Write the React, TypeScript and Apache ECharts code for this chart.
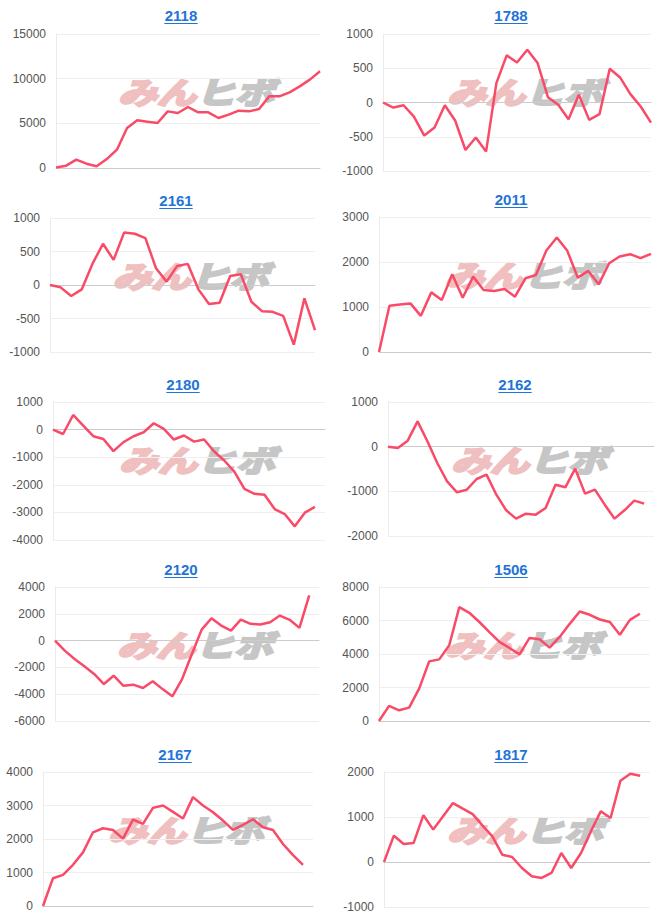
import React, { useEffect, useRef } from "react";
import * as echarts from "echarts";

// ---- data ----
const titles = ["2118", "1788", "2161", "2011", "2180", "2162", "2120", "1506", "2167", "1817"];

const periods = [
  "1", "2", "3", "4", "5", "6", "7", "8", "9", "10", "11", "12", "13", "14",
  "15", "16", "17", "18", "19", "20", "21", "22", "23", "24", "25", "26", "27", "28",
];

const s2118 = [50, 260, 930, 485, 190, 1000, 2050, 4480, 5340, 5190, 5040, 6340, 6160, 6830, 6230, 6230, 5600, 5970, 6420, 6340, 6600, 8020, 8020, 8470, 9140, 9890, 10820];
const s1788 = [0, -73, -40, -205, -483, -366, -40, -263, -693, -512, -717, 283, 688, 585, 771, 576, 78, -34, -244, 112, -254, -171, 493, 366, 122, -59, -293];
const s2161 = [0, -35, -165, -65, 315, 615, 375, 785, 765, 700, 250, 50, 285, 315, -65, -285, -265, 135, 160, -250, -390, -400, -460, -890, -200, -675];
const s2011 = [0, 1027, 1057, 1080, 804, 1325, 1154, 1727, 1206, 1675, 1377, 1355, 1400, 1228, 1638, 1712, 2256, 2546, 2248, 1653, 1802, 1504, 1973, 2122, 2174, 2085, 2182];
const s2180 = [0, -160, 530, 145, -240, -340, -780, -455, -240, -95, 230, 25, -360, -215, -435, -360, -795, -1120, -1520, -2145, -2325, -2360, -2880, -3060, -3505, -3010, -2800, null];
const s2162 = [0, -30, 135, 567, 120, -365, -776, -1022, -963, -724, -627, -1075, -1425, -1612, -1500, -1522, -1373, -851, -910, -493, -1052, -963, -1299, -1612, -1425, -1209, -1276, null];
const s2120 = [0, -750, -1370, -1920, -2490, -3240, -2620, -3370, -3290, -3540, -3040, -3620, -4160, -2870, -1000, 820, 1670, 1120, 750, 1570, 1250, 1200, 1370, 1870, 1550, 950, 3370, null];
const s1506 = [0, 900, 640, 800, 1930, 3560, 3680, 4520, 6800, 6460, 5910, 5310, 4720, 4360, 3980, 4960, 4880, 4380, 5020, 5800, 6540, 6340, 6060, 5910, 5150, 6040, 6400, null];
const s2167 = [0, 830, 930, 1230, 1600, 2200, 2320, 2270, 2010, 2580, 2450, 2930, 3000, 2810, 2610, 3250, 3000, 2800, 2550, 2270, 2420, 2590, 2350, 2270, 1850, 1520, 1230, null];
const s1817 = [0, 585, 400, 420, 1040, 720, 1015, 1310, 1185, 1065, 810, 570, 163, 111, -133, -318, -355, -244, 200, -133, 200, 680, 1126, 977, 1807, 1963, 1918, null];

const seriesData = [s2118, s1788, s2161, s2011, s2180, s2162, s2120, s1506, s2167, s1817];

// y axis ranges
const yMins = [0, -1000, -1000, 0, -4000, -2000, -6000, 0, 0, -1000];
const yMaxs = [15000, 1000, 1000, 3000, 1000, 1000, 4000, 8000, 4000, 2000];
const yIntervals = [5000, 500, 500, 1000, 1000, 1000, 2000, 2000, 1000, 1000];

// ---- layout (px) ----
const layout = [
  { left: 56, top: 34, width: 264, height: 134, tx: 181, ty: 15 },
  { left: 383, top: 34, width: 268, height: 137, tx: 511, ty: 15 },
  { left: 50, top: 218, width: 265, height: 134, tx: 176, ty: 200 },
  { left: 379, top: 217, width: 272, height: 135, tx: 511, ty: 199 },
  { left: 53, top: 402, width: 272, height: 138, tx: 183, ty: 384 },
  { left: 388, top: 402, width: 266, height: 134, tx: 515, ty: 384 },
  { left: 55, top: 587, width: 264, height: 134, tx: 181, ty: 569 },
  { left: 379, top: 587, width: 271, height: 134, tx: 511, ty: 569 },
  { left: 43, top: 772, width: 270, height: 134, tx: 175, ty: 754 },
  { left: 384, top: 772, width: 266, height: 135, tx: 511, ty: 754 },
];

const LINE_COLOR = "#f94b68";
const TITLE_COLOR = "#1f74d8";
const WM_FONT = "'Noto Sans CJK JP', sans-serif";

function buildOption() {
  const grid: any[] = [];
  const xAxis: any[] = [];
  const yAxis: any[] = [];
  const series: any[] = [];
  const graphic: any[] = [];

  seriesData.forEach((data, i) => {
    const L = layout[i];
    grid.push({ left: L.left, top: L.top, width: L.width, height: L.height, containLabel: false });
    xAxis.push({
      type: "category",
      gridIndex: i,
      data: periods.slice(0, data.length),
      boundaryGap: false,
      axisLabel: { show: false },
      axisTick: { show: false },
      axisLine: { show: true, onZero: true, lineStyle: { color: "#cccccc", width: 1 } },
      splitLine: { show: false },
    });
    yAxis.push({
      type: "value",
      gridIndex: i,
      min: yMins[i],
      max: yMaxs[i],
      interval: yIntervals[i],
      axisLine: { show: true, lineStyle: { color: "#ebebeb", width: 1 } },
      axisTick: { show: false },
      axisLabel: {
        color: "#555555",
        fontSize: 12,
        fontFamily: "Liberation Sans, Arial, sans-serif",
        margin: 10,
        formatter: (v: number) => String(v),
      },
      splitLine: { show: true, lineStyle: { color: "#efefef", width: 1 } },
    });
    series.push({
      type: "line",
      xAxisIndex: i,
      yAxisIndex: i,
      data,
      showSymbol: false,
      symbol: "none",
      lineStyle: { color: LINE_COLOR, width: 2.5 },
      z: 3,
    });

    const tw = titles[i].length * 0.556 * 15;
    graphic.push({
      type: "text",
      x: L.tx,
      y: L.ty,
      style: {
        text: titles[i],
        fill: TITLE_COLOR,
        font: "bold 15px 'Liberation Sans', Arial, sans-serif",
        textAlign: "center",
        textVerticalAlign: "middle",
      },
      z: 10,
    });
    graphic.push({
      type: "line",
      shape: { x1: L.tx - tw / 2, y1: L.ty + 8.5, x2: L.tx + tw / 2, y2: L.ty + 8.5 },
      style: { stroke: TITLE_COLOR, lineWidth: 1.2 },
      z: 10,
    });
    // watermark
    graphic.push({
      type: "text",
      x: L.left + L.width / 2 + 8,
      y: L.top + 57,
      scaleX: 1.3,
      style: {
        text: "{a|みん}{b|ヒボ}",
        textAlign: "center",
        textVerticalAlign: "middle",
        rich: {
          a: {
            fill: "#f0c0c0",
            stroke: "#f0c0c0",
            lineWidth: 2.5,
            fontSize: 30,
            fontWeight: "bold",
            fontStyle: "italic",
            fontFamily: WM_FONT,
          },
          b: {
            fill: "#c6c6c6",
            stroke: "#c6c6c6",
            lineWidth: 2.5,
            fontSize: 30,
            fontWeight: "bold",
            fontStyle: "italic",
            fontFamily: WM_FONT,
          },
        },
      },
      z: 0,
      silent: true,
    });
  });

  return {
    animation: false,
    backgroundColor: "#ffffff",
    grid,
    xAxis,
    yAxis,
    series,
    graphic,
  };
}

export default function App() {
  const ref = useRef<HTMLDivElement>(null);
  useEffect(() => {
    if (!ref.current) return;
    const chart = echarts.init(ref.current, null, { renderer: "svg" });
    chart.setOption(buildOption() as any);
    return () => chart.dispose();
  }, []);
  return (
    <div
      ref={ref}
      style={{ position: "absolute", left: 0, top: 0, width: 666, height: 923, background: "#fff" }}
    />
  );
}
